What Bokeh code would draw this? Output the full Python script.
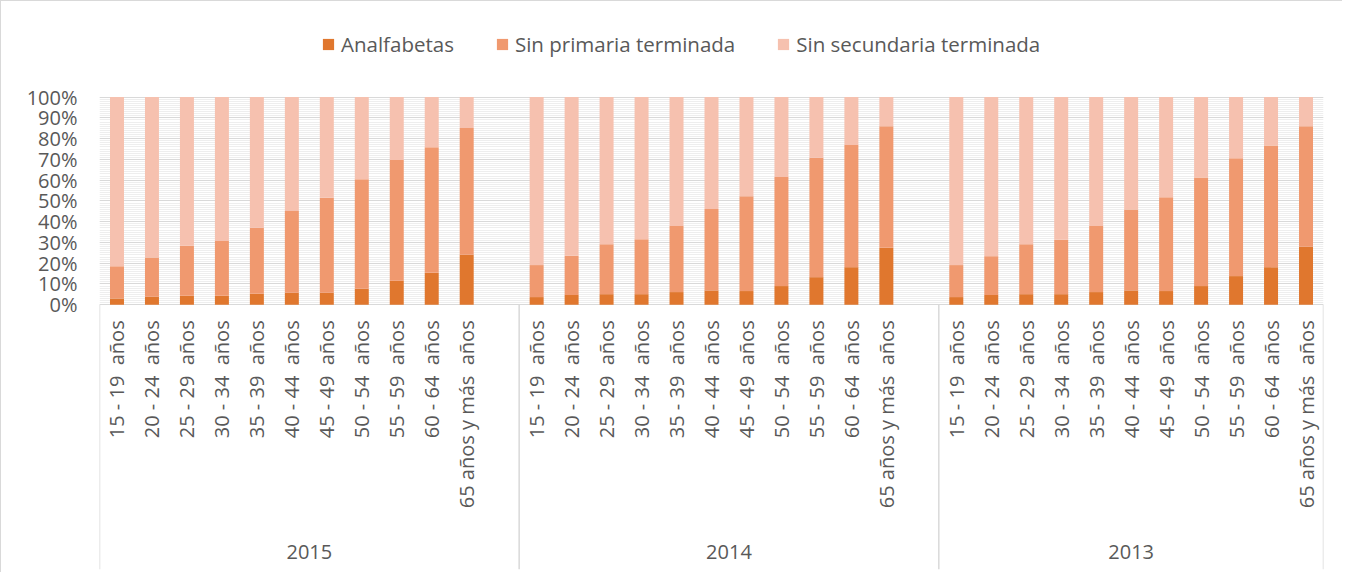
from math import pi
from bokeh.plotting import figure
from bokeh.models import (ColumnDataSource, FactorRange, Range1d, FixedTicker,
                          Legend, LegendItem, PrintfTickFormatter)
from bokeh.core.properties import value
from bokeh.embed import file_html
from bokeh.resources import INLINE

# ---------------- data ----------------
years = ["2015", "2014", "2013"]
ages = ["15 - 19 \u00a0años", "20 - 24 \u00a0años", "25 - 29 \u00a0años", "30 - 34 \u00a0años",
        "35 - 39 \u00a0años", "40 - 44 \u00a0años", "45 - 49 \u00a0años", "50 - 54 \u00a0años",
        "55 - 59 \u00a0años", "60 - 64 \u00a0años", "65 años y más \u00a0años"]
years_with_blank_slot = ["2015", "2014"]
blank_label = " "
series_names = ["Analfabetas", "Sin primaria terminada", "Sin secundaria terminada"]

analfabetas = {
    "2015": [3.0, 3.9, 4.3, 4.3, 5.3, 5.8, 5.8, 7.7, 11.6, 15.4, 24.1],
    "2014": [3.7, 4.7, 5.1, 5.1, 6.1, 6.9, 6.6, 9.0, 13.3, 18.1, 27.4],
    "2013": [3.7, 4.7, 5.1, 5.1, 6.1, 6.9, 6.6, 9.0, 13.8, 18.1, 27.9],
}
sin_primaria = {
    "2015": [15.6, 18.9, 24.1, 26.4, 31.8, 39.3, 45.7, 52.8, 58.1, 60.5, 61.0],
    "2014": [15.4, 18.9, 24.1, 26.4, 31.8, 39.2, 45.7, 52.5, 57.5, 58.8, 58.6],
    "2013": [15.4, 18.7, 24.1, 26.2, 31.8, 39.0, 45.2, 52.3, 56.8, 58.6, 58.1],
}
sin_secundaria = {
    "2015": [81.4, 77.2, 71.6, 69.3, 62.9, 54.9, 48.5, 39.5, 30.3, 24.1, 14.9],
    "2014": [80.9, 76.4, 70.8, 68.5, 62.1, 53.9, 47.7, 38.5, 29.2, 23.1, 14.0],
    "2013": [80.9, 76.6, 70.8, 68.7, 62.1, 54.1, 48.2, 38.7, 29.4, 23.3, 14.0],
}
y_ticks = [0, 10, 20, 30, 40, 50, 60, 70, 80, 90, 100]

# ---------------- styling ----------------
colors = ["#E0772E", "#F0996F", "#F6C1AF"]
text_color = "#595959"
line_gray = "#d9d9d9"
FONT = "Open Sans"

# factors (with the empty slot that ends some groups)
factors = []
for y in years:
    for a in ages:
        factors.append((y, a))
    if y in years_with_blank_slot:
        factors.append((y, blank_label))

xs = [(y, a) for y in years for a in ages]
src = ColumnDataSource(dict(
    x=xs,
    analf=[v for y in years for v in analfabetas[y]],
    prim=[v for y in years for v in sin_primaria[y]],
    sec=[v for y in years for v in sin_secundaria[y]],
    label=[a for y in years for a in ages],
))

y_top = 136.9
y_bottom = -127.5

p = figure(width=1342, height=572, output_backend="svg", toolbar_location=None,
           x_range=FactorRange(factors=factors, range_padding=0,
                               factor_padding=0, group_padding=0),
           y_range=Range1d(y_bottom, y_top),
           x_axis_location=None, y_axis_location="left",
           min_border_left=98, min_border_right=20,
           min_border_top=19, min_border_bottom=4)
p.outline_line_color = None
p.background_fill_color = "white"
p.border_fill_color = "white"
p.styles = {"border-left": "1px solid #d9d9d9", "border-top": "1px solid #d9d9d9"}

ticker = FixedTicker(ticks=y_ticks, minor_ticks=list(range(0, 101, 1)))
p.yaxis.ticker = ticker
p.yaxis.formatter = PrintfTickFormatter(format="%d%%")
p.yaxis.axis_line_color = None
p.yaxis.major_tick_line_color = None
p.yaxis.minor_tick_line_color = None
p.yaxis.major_tick_out = 0
p.yaxis.major_tick_in = 0
p.yaxis.minor_tick_out = 0
p.yaxis.major_label_standoff = 22
p.yaxis.major_label_text_font = FONT
p.yaxis.major_label_text_font_size = "20px"
p.yaxis.major_label_text_color = text_color

p.xgrid.visible = False
p.ygrid.ticker = ticker
p.ygrid.grid_line_color = line_gray
p.ygrid.grid_line_width = 1
p.ygrid.minor_grid_line_color = "#eeeeee"
p.ygrid.minor_grid_line_width = 1

renderers = p.vbar_stack(["analf", "prim", "sec"], x="x", width=0.4, source=src,
                         fill_color=colors, line_color=None)

# group separators (from the 0 axis to the bottom)
sep_x = [(y, [f for f in factors if f[0] == y][0][1], -0.5) for y in years]
sep_x.append(factors[-1] + (0.5,))
p.segment(x0=sep_x, y0=[0] * len(sep_x), x1=sep_x, y1=[y_bottom] * len(sep_x),
          line_color=line_gray, line_width=1.5)

# category labels (rotated)
p.text(x="x", y=-7.5, text="label", source=src, angle=pi / 2,
       text_align="right", text_baseline="middle",
       text_font=value(FONT), text_font_size="20px", text_color=text_color)

# year labels
p.text(x=years, y=[-119.3] * len(years), text=years,
       text_align="center", text_baseline="middle",
       text_font=value(FONT), text_font_size="20px", text_color=text_color)

legend = Legend(items=[LegendItem(label=n, renderers=[r])
                       for n, r in zip(series_names, renderers)],
                orientation="horizontal", location=(222, 511),
                glyph_width=14, glyph_height=14, label_standoff=6, spacing=41,
                padding=5, margin=0, border_line_color=None,
                background_fill_alpha=0,
                label_text_font=FONT, label_text_font_size="20.5px",
                label_text_color=text_color)
p.add_layout(legend)

open("out.html", "w").write(file_html(p, INLINE))
